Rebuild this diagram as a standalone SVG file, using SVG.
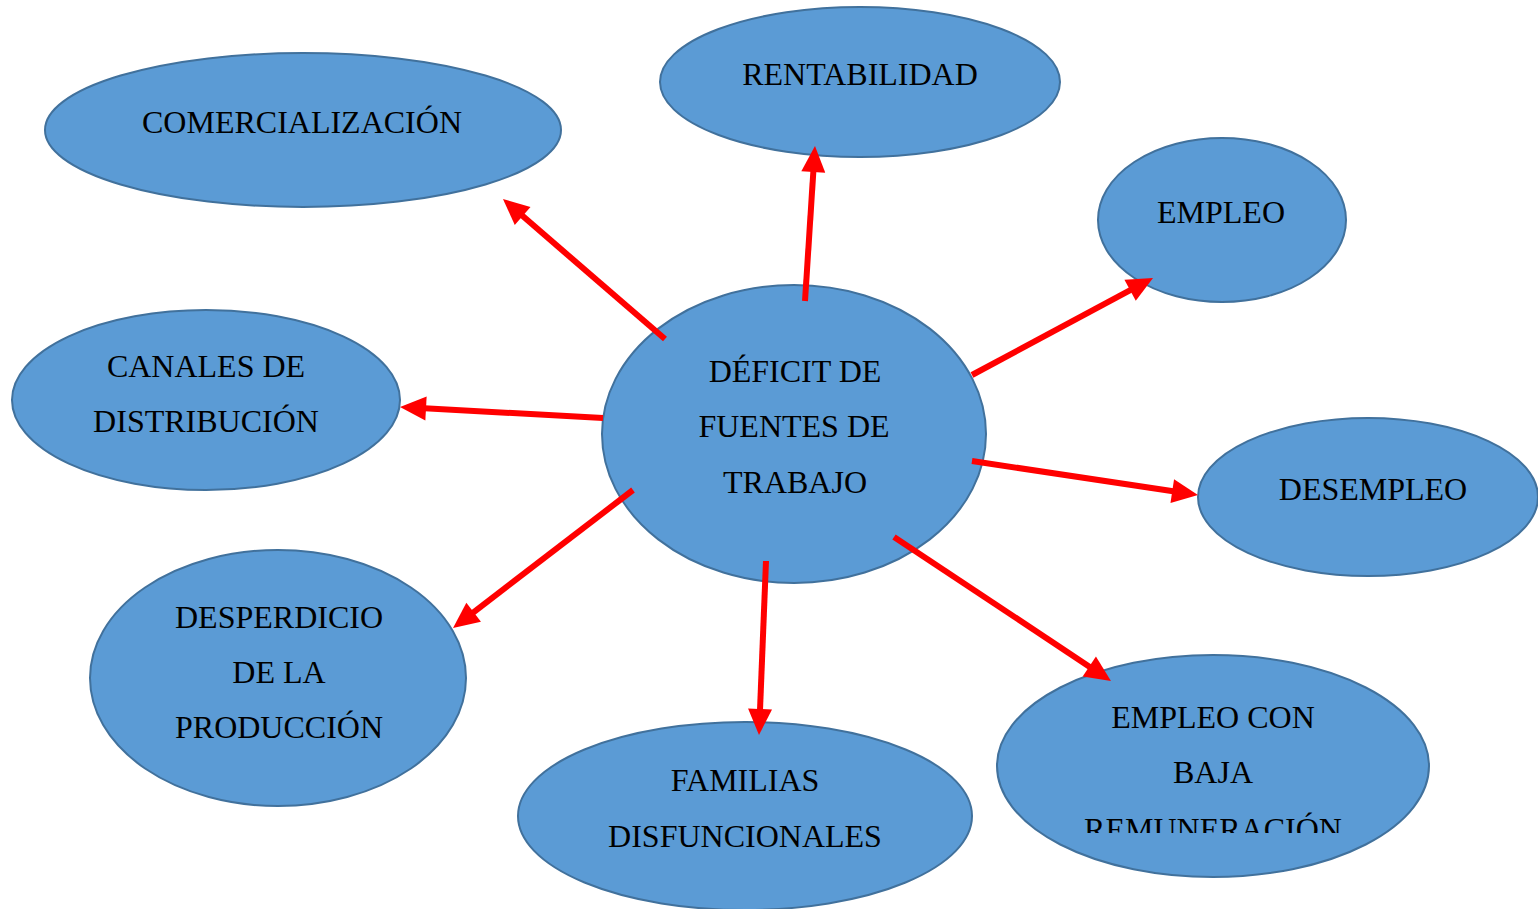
<svg xmlns="http://www.w3.org/2000/svg" width="1538" height="909" viewBox="0 0 1538 909">
<style>
.n{fill:#5B9BD5;stroke:#41719C;stroke-width:2}
.t{font-family:"Liberation Serif","Times New Roman",serif;font-size:32px;fill:#000;text-anchor:middle}
.c{stroke:#FF0000;stroke-width:6;fill:none;marker-end:url(#ah)}
</style>
<defs>
<marker id="ah" markerUnits="userSpaceOnUse" markerWidth="26" markerHeight="24" refX="6" refY="12" orient="auto" overflow="visible">
<path d="M0,0 L26,12 L0,24 Z" fill="#FF0000"/>
</marker>
<clipPath id="clipRem"><rect x="990" y="640" width="450" height="193"/></clipPath>
</defs>
<rect width="1538" height="909" fill="#FFFFFF"/>
<g id="n-comercializacion"><ellipse class="n" cx="303" cy="130" rx="258" ry="77"/><text class="t" x="302" y="133">COMERCIALIZACIÓN</text></g>
<g id="n-rentabilidad"><ellipse class="n" cx="860" cy="82" rx="200" ry="75"/><text class="t" x="860" y="85">RENTABILIDAD</text></g>
<g id="n-empleo"><ellipse class="n" cx="1222" cy="220" rx="124" ry="82"/><text class="t" x="1221" y="223">EMPLEO</text></g>
<g id="n-canales"><ellipse class="n" cx="206" cy="400" rx="194" ry="90"/><text class="t" x="206" y="377">CANALES DE</text><text class="t" x="206" y="432">DISTRIBUCIÓN</text></g>
<g id="n-desempleo"><ellipse class="n" cx="1368" cy="497" rx="170" ry="79"/><text class="t" x="1373" y="500">DESEMPLEO</text></g>
<g id="n-desperdicio"><ellipse class="n" cx="278" cy="678" rx="188" ry="128"/><text class="t" x="279" y="628">DESPERDICIO</text><text class="t" x="279" y="683">DE LA</text><text class="t" x="279" y="738">PRODUCCIÓN</text></g>
<g id="n-familias"><ellipse class="n" cx="745" cy="816" rx="227" ry="94"/><text class="t" x="745" y="791">FAMILIAS</text><text class="t" x="745" y="847">DISFUNCIONALES</text></g>
<g id="n-empleo-baja"><ellipse class="n" cx="1213" cy="766" rx="216" ry="111"/><text class="t" x="1213" y="728">EMPLEO CON</text><text class="t" x="1213" y="783">BAJA</text><text class="t" x="1213" y="840" clip-path="url(#clipRem)">REMUNERACIÓN</text></g>
<g id="n-deficit"><ellipse class="n" cx="794" cy="434" rx="192" ry="149"/><text class="t" x="795" y="382">DÉFICIT DE</text><text class="t" x="794" y="437">FUENTES DE</text><text class="t" x="795" y="493">TRABAJO</text></g>
<g id="connectors">
<line class="c" x1="665" y1="339" x2="518.1" y2="212.1"/>
<line class="c" x1="805" y1="301" x2="813.7" y2="166"/>
<line class="c" x1="972" y1="375" x2="1135.4" y2="287.4"/>
<line class="c" x1="603" y1="418" x2="420" y2="408.1"/>
<line class="c" x1="972" y1="461" x2="1178.2" y2="492"/>
<line class="c" x1="633" y1="490" x2="468.9" y2="615.8"/>
<line class="c" x1="766" y1="561" x2="759.8" y2="715"/>
<line class="c" x1="894" y1="537" x2="1094.3" y2="669.9"/>
</g>
</svg>
